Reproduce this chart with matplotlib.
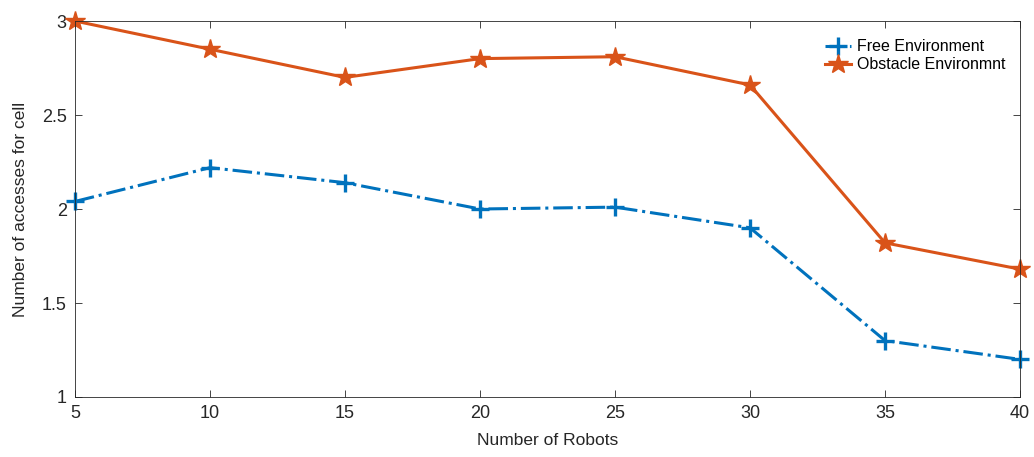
import matplotlib.pyplot as plt

plt.rcParams['font.family'] = ['Liberation Sans', 'DejaVu Sans']

robots = [5, 10, 15, 20, 25, 30, 35, 40]
free_env = [2.04, 2.22, 2.14, 2.00, 2.01, 1.90, 1.30, 1.20]
obstacle_env = [3.00, 2.85, 2.70, 2.80, 2.81, 2.66, 1.82, 1.68]

fig = plt.figure(figsize=(10.34, 4.57), dpi=100)
ax = fig.add_axes([0.0725, 0.1313, 0.914, 0.8227])

ax.plot(robots, free_env, color='#0072BD', lw=2.2, ls='-.', marker='+',
        ms=13, mew=2.4, label='Free Environment', clip_on=False)
ax.plot(robots, obstacle_env, color='#D95319', lw=2.2, ls='-', marker='*',
        ms=15, label='Obstacle Environmnt', clip_on=False)

ax.set_xlim(5, 40)
ax.set_ylim(1, 3)
ax.set_xticks(robots)
ax.set_yticks([1, 1.5, 2, 2.5, 3])
ax.set_yticklabels(['1', '1.5', '2', '2.5', '3'])
ax.tick_params(direction='in', top=True, right=True, labelsize=13,
               length=5, width=0.6, colors='#262626', pad=6)
for s in ax.spines.values():
    s.set_linewidth(0.6)
    s.set_color('#262626')

ax.set_xlabel('Number of Robots', fontsize=12.5, color='#262626', labelpad=8)
ax.set_ylabel('Number of accesses for cell', fontsize=12.5, color='#262626',
              labelpad=10)

ax.legend(loc='upper right', frameon=False, fontsize=11.5,
          bbox_to_anchor=(1.0, 0.99), handlelength=1.6,
          handletextpad=0.4, labelspacing=0.2)

fig.savefig('out.png', dpi=100)
